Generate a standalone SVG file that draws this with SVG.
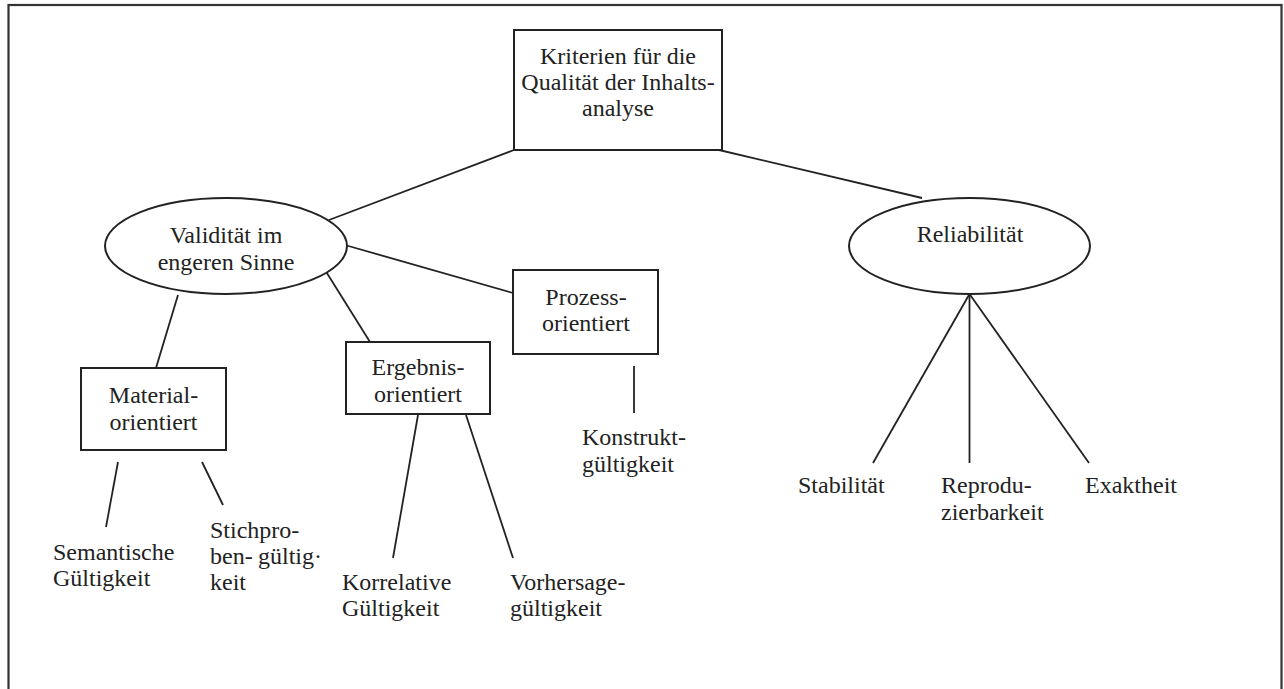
<svg xmlns="http://www.w3.org/2000/svg" width="1284" height="689" viewBox="0 0 1284 689">
<style>
.sh{fill:#fff;stroke:#222;stroke-width:2}
.ln{stroke:#222;stroke-width:1.8;fill:none}
text{font-family:"Liberation Serif","Times New Roman",Times,serif;font-size:24px;fill:#222}
.c{text-anchor:middle}
</style>
<rect x="0" y="0" width="1284" height="689" fill="#fff"/>
<rect id="frame" x="8.5" y="5" width="1273" height="700" fill="none" stroke="#333" stroke-width="2.2"/>
<g id="connectors">
<line class="ln" x1="514" y1="150" x2="329" y2="220"/>
<line class="ln" x1="719" y1="150" x2="922" y2="198"/>
<line class="ln" x1="345" y1="245" x2="513" y2="293"/>
<line class="ln" x1="178" y1="295" x2="156" y2="368"/>
<line class="ln" x1="325" y1="270" x2="370" y2="342"/>
<line class="ln" x1="634" y1="366" x2="634" y2="413"/>
<line class="ln" x1="118" y1="462" x2="106" y2="527"/>
<line class="ln" x1="202" y1="462" x2="223" y2="505"/>
<line class="ln" x1="418" y1="415" x2="393" y2="558"/>
<line class="ln" x1="466" y1="415" x2="513" y2="558"/>
<line class="ln" x1="969.5" y1="294" x2="873" y2="463"/>
<line class="ln" x1="969.5" y1="294" x2="969.5" y2="463"/>
<line class="ln" x1="969.5" y1="294" x2="1089" y2="463"/>
</g>
<g id="kriterien">
<rect class="sh" x="514" y="30" width="208" height="120"/>
<text class="c" x="618" y="64">Kriterien für die</text>
<text class="c" x="618" y="90">Qualität der Inhalts-</text>
<text class="c" x="618" y="116">analyse</text>
</g>
<g id="validitaet">
<ellipse class="sh" cx="226" cy="246" rx="121" ry="48"/>
<text class="c" x="226" y="243">Validität im</text>
<text class="c" x="226" y="270">engeren Sinne</text>
</g>
<g id="reliabilitaet">
<ellipse class="sh" cx="969.5" cy="246" rx="120.5" ry="48"/>
<text class="c" x="970" y="242">Reliabilität</text>
</g>
<g id="prozess">
<rect class="sh" x="513" y="270" width="145" height="84"/>
<text class="c" x="586" y="305">Prozess-</text>
<text class="c" x="586" y="331">orientiert</text>
</g>
<g id="material">
<rect class="sh" x="81" y="368" width="145" height="82"/>
<text class="c" x="153.5" y="403">Material-</text>
<text class="c" x="153.5" y="430">orientiert</text>
</g>
<g id="ergebnis">
<rect class="sh" x="346" y="342" width="144" height="72"/>
<text class="c" x="418" y="375">Ergebnis-</text>
<text class="c" x="418" y="402">orientiert</text>
</g>
<g id="konstrukt">
<text x="582" y="445">Konstrukt-</text>
<text x="582" y="472">gültigkeit</text>
</g>
<g id="semantisch">
<text x="53" y="560">Semantische</text>
<text x="53" y="586">Gültigkeit</text>
</g>
<g id="stichprobe">
<text x="210" y="538">Stichpro-</text>
<text y="564"><tspan x="210">ben-</tspan><tspan x="258">gültig·</tspan></text>
<text x="210" y="590">keit</text>
</g>
<g id="korrelativ">
<text x="342" y="590">Korrelative</text>
<text x="342" y="616">Gültigkeit</text>
</g>
<g id="vorhersage">
<text x="510" y="590">Vorhersage-</text>
<text x="510" y="616">gültigkeit</text>
</g>
<g id="stabilitaet">
<text x="798" y="493">Stabilität</text>
</g>
<g id="reproduzierbarkeit">
<text x="941" y="493">Reprodu-</text>
<text x="941" y="520">zierbarkeit</text>
</g>
<g id="exaktheit">
<text x="1085" y="493">Exaktheit</text>
</g>
</svg>
